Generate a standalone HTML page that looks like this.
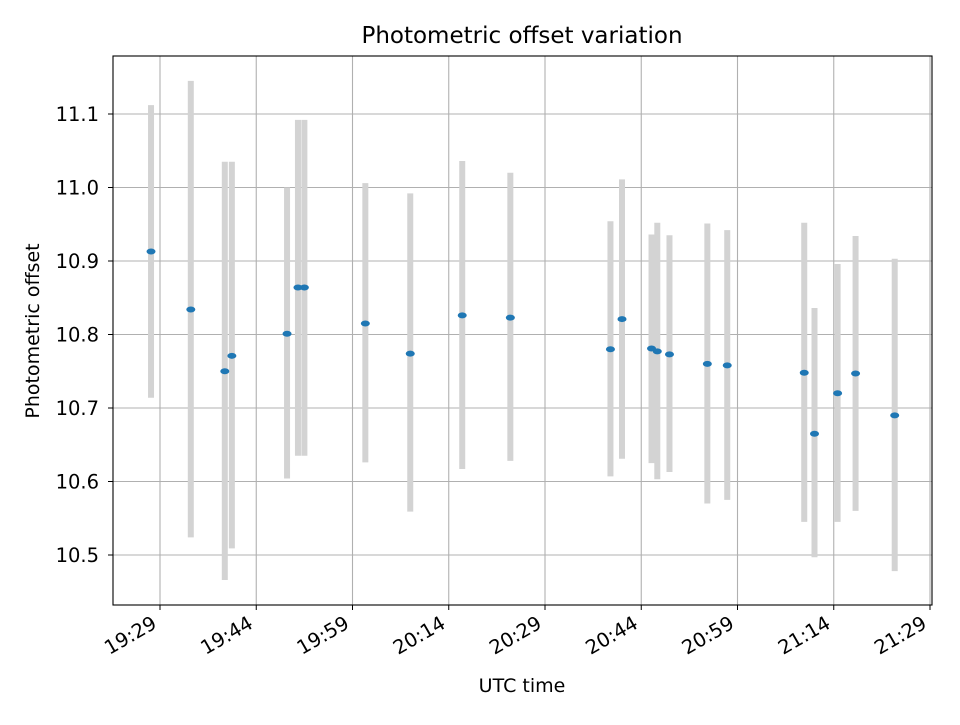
<!DOCTYPE html>
<html><head><meta charset="utf-8"><style>
body{margin:0;background:#fff;}
svg text{font-family:"DejaVu Sans","Liberation Sans",sans-serif;fill:#000;}
</style></head><body>
<svg id="chart" width="960" height="720" xmlns="http://www.w3.org/2000/svg">
<rect width="960" height="720" fill="#fff"/>
<g id="grid"></g><g id="bars"></g><g id="pts"></g><g id="axes"></g>
<text x="522" y="43" font-size="23" text-anchor="middle">Photometric offset variation</text>
<text x="522" y="692" font-size="19" text-anchor="middle">UTC time</text>
<text transform="translate(39,331) rotate(-90)" font-size="19" text-anchor="middle">Photometric offset</text>
</svg>
<script>
// times in minutes after midnight UTC
const times=[1167.6,1173.8,1179.1,1180.2,1188.8,1190.5,1191.5,1201.0,1208.0,1216.1,1223.6,1239.2,1241.0,1245.6,1246.5,1248.4,1254.3,1257.4,1269.4,1271.0,1274.6,1277.4,1283.5];
const offsets=[10.913,10.834,10.750,10.771,10.801,10.864,10.864,10.815,10.774,10.826,10.823,10.780,10.821,10.781,10.777,10.773,10.760,10.758,10.748,10.665,10.720,10.747,10.690];
const upper=[11.112,11.145,11.035,11.035,11.000,11.092,11.092,11.006,10.992,11.036,11.020,10.954,11.011,10.936,10.952,10.935,10.951,10.942,10.952,10.836,10.896,10.934,10.903];
const lower=[10.714,10.524,10.466,10.509,10.604,10.635,10.635,10.626,10.559,10.617,10.628,10.607,10.631,10.625,10.603,10.613,10.570,10.575,10.545,10.497,10.545,10.560,10.478];
const yTicks=[10.5,10.6,10.7,10.8,10.9,11.0,11.1];
const xTicks=[1169,1184,1199,1214,1229,1244,1259,1274,1289];
const NS="http://www.w3.org/2000/svg";
const L=113,R=932,T=56,B=605;
function xs(m){return 160+(m-1169)*(930-160)/120;}
function ys(v){return 555-(v-10.5)*(555-114)/0.6;}
function mk(tag,attrs,parent){const e=document.createElementNS(NS,tag);for(const k in attrs)e.setAttribute(k,attrs[k]);document.getElementById(parent).appendChild(e);return e;}
function fmt(m){const h=Math.floor(m/60),mm=Math.round(m%60);return h+":"+String(mm).padStart(2,"0");}
yTicks.forEach(v=>{const y=ys(v);
 const g=mk("line",{x1:L,x2:R,y1:y,y2:y,stroke:"#b0b0b0","stroke-width":1.1},"grid");
 
 
 mk("line",{x1:L-5,x2:L,y1:y,y2:y,stroke:"#000"},"axes");
 const t=mk("text",{x:L-14,y:y+7,"font-size":19.5,"text-anchor":"end"},"axes");t.textContent=v.toFixed(1);
 
 
});
xTicks.forEach(m=>{const x=xs(m);
 const g=mk("line",{x1:x,x2:x,y1:T,y2:B,stroke:"#b0b0b0","stroke-width":1.1},"grid");
 
 
 mk("line",{x1:x,x2:x,y1:B,y2:B+5,stroke:"#000"},"axes");
 const t=mk("text",{transform:"translate("+(x-2)+","+(B+22)+") rotate(-30)","font-size":19.5,"text-anchor":"end"},"axes");t.textContent=fmt(m);
 
 
});
times.forEach((m,i)=>{const x=xs(m);
 const b=mk("line",{x1:x,x2:x,y1:ys(upper[i]),y2:ys(lower[i]),stroke:"#d3d3d3","stroke-width":6},"bars");
 
 
 const p=mk("ellipse",{cx:x,cy:ys(offsets[i]),rx:4.5,ry:3,fill:"#1f77b4"},"pts");
 
 
});
const f=mk("rect",{x:L,y:T,width:R-L,height:B-T,fill:"none",stroke:"#000","stroke-width":1.1},"axes");


</script>
</body></html>
